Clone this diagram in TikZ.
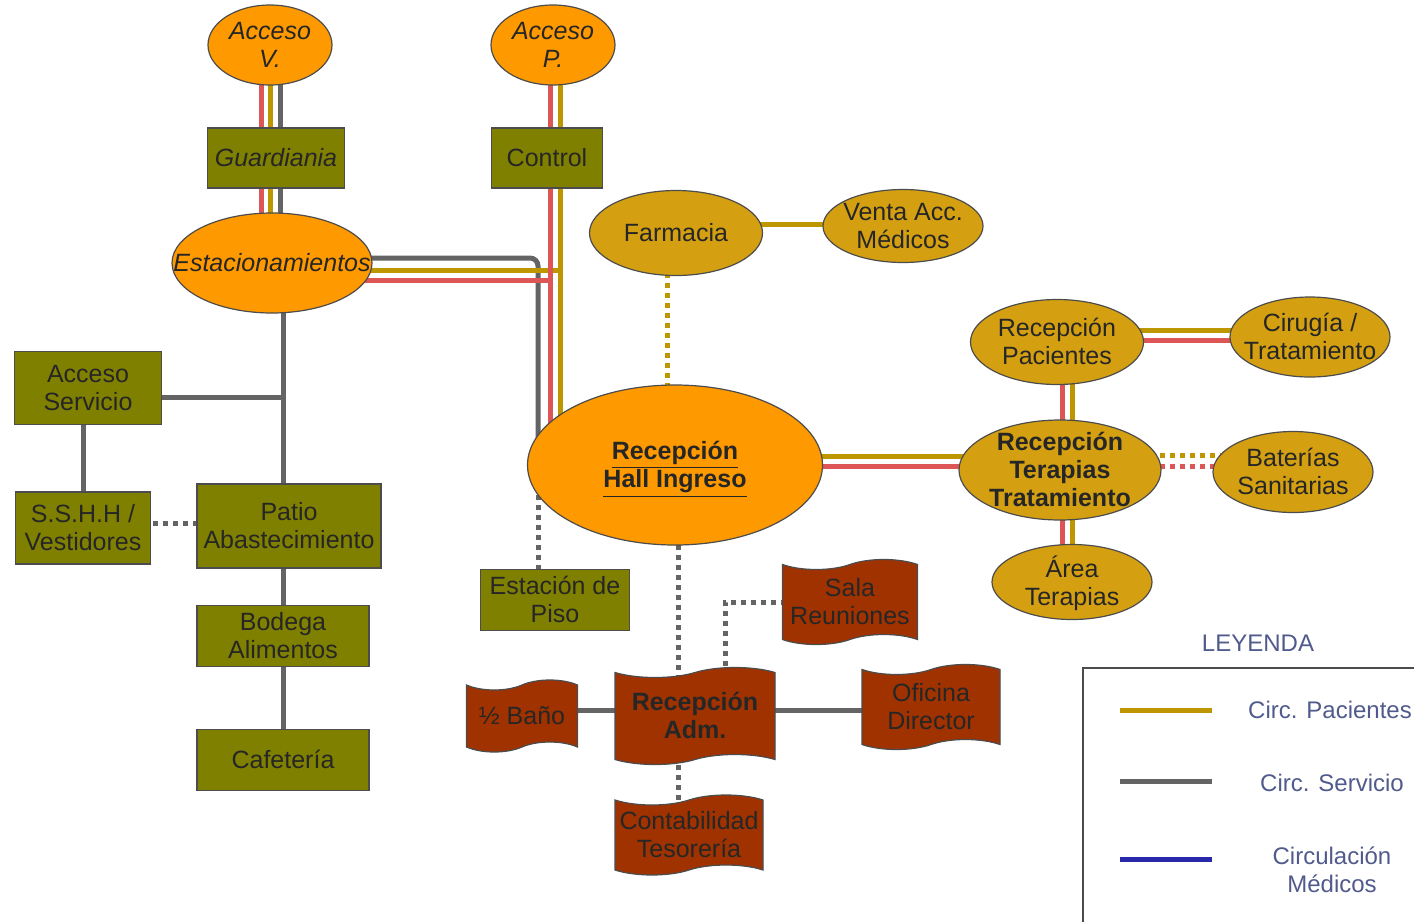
\documentclass[tikz,border=0pt]{standalone}
\usepackage{fontspec}
\setmainfont{Liberation Sans}
\usetikzlibrary{shapes.geometric,shapes.symbols,calc,backgrounds}
\definecolor{naranja}{RGB}{255,153,0}
\definecolor{dorado}{RGB}{212,160,18}
\definecolor{oliva}{RGB}{128,128,0}
\definecolor{ladrillo}{RGB}{160,50,0}
\definecolor{lpac}{RGB}{190,150,0}
\definecolor{lserv}{RGB}{100,100,100}
\definecolor{lmed}{RGB}{40,40,170}
\definecolor{lrojo}{RGB}{222,85,85}
\definecolor{leyenda}{RGB}{80,90,140}
% text of zero size, so the shape keeps its own size
\newcommand{\tx}[1]{\makebox[0pt]{\smash{\raisebox{-0.37em}{\begin{tabular}{@{}c@{}}#1\end{tabular}}}}}
\tikzset{
  base/.style={draw=black!70, line width=0.6pt, inner sep=0pt, text=black!85,
    font=\fontsize{12.5}{14}\selectfont},
  elip/.style={base, ellipse, fill=naranja},
  elipd/.style={base, ellipse, fill=dorado},
  caja/.style={base, rectangle, fill=oliva},
  bandera/.style={base, tape, fill=ladrillo, tape bend height=5pt},
  pac/.style={lpac, line width=2.5pt},
  serv/.style={lserv, line width=2.5pt},
  roja/.style={lrojo, line width=2.5pt},
  med/.style={lmed, line width=2.5pt},
  punteado/.style={dash pattern=on 2.5pt off 2.5pt},
  ley/.style={text=leyenda, font=\fontsize{12}{14}\selectfont, align=center}
}
\begin{document}
\begin{tikzpicture}[x=0.5pt,y=-0.5pt]
\useasboundingbox (0,0) rectangle (1414,922);

% accesos
\node[elip, font=\fontsize{12.5}{14}\selectfont\itshape, minimum width=62pt, minimum height=40pt] (acv) at (270,45) {\tx{Acceso\\V.}};
\node[elip, font=\fontsize{12.5}{14}\selectfont\itshape, minimum width=62pt, minimum height=40pt] (acp) at (553,45) {\tx{Acceso\\P.}};
\node[caja, font=\fontsize{12.5}{14}\selectfont\itshape, minimum width=68.5pt, minimum height=30pt] (guard) at (276,158) {\tx{Guardiania}};
\node[caja, minimum width=55.5pt, minimum height=30pt] (control) at (547,158) {\tx{Control}};
\node[elip, font=\fontsize{12.5}{14}\selectfont\itshape, minimum width=100pt, minimum height=50pt] (est) at (272,263) {\tx{Estacionamientos}};

% servicio
\node[caja, minimum width=73.5pt, minimum height=36.5pt] (accserv) at (88,388) {\tx{Acceso\\Servicio}};
\node[caja, minimum width=67.5pt, minimum height=36pt] (sshh) at (83,528) {\tx{S.S.H.H /\\Vestidores}};
\node[caja, minimum width=92pt, minimum height=42pt] (patio) at (289,526) {\tx{Patio\\Abastecimiento}};
\node[caja, minimum width=86pt, minimum height=30.5pt] (bodega) at (283,636) {\tx{Bodega\\Alimentos}};
\node[caja, minimum width=86pt, minimum height=30.5pt] (cafe) at (283,760) {\tx{Cafetería}};

% hall y pacientes
\node[elip, font=\fontsize{12.5}{14}\selectfont\bfseries, minimum width=147.5pt, minimum height=80pt] (hall) at (675,465) {\tx{\underline{Recepción}\\\underline{Hall Ingreso}}};
\node[elipd, minimum width=86.5pt, minimum height=42.5pt] (farm) at (676,233) {\tx{Farmacia}};
\node[elipd, minimum width=80pt, minimum height=36.5pt] (venta) at (903,226) {\tx{Venta Acc.\\Médicos}};
\node[caja, minimum width=74.5pt, minimum height=30.5pt] (piso) at (555,600) {\tx{Estación de\\Piso}};
\node[elipd, minimum width=86.5pt, minimum height=42.5pt] (recpac) at (1057,342) {\tx{Recepción\\Pacientes}};
\node[elipd, minimum width=80pt, minimum height=40pt] (ciru) at (1310,337) {\tx{Cirugía /\\Tratamiento}};
\node[elipd, font=\fontsize{12.5}{14}\selectfont\bfseries, minimum width=101pt, minimum height=50pt] (terap) at (1060,470) {\tx{Recepción\\Terapias\\Tratamiento}};
\node[elipd, minimum width=80pt, minimum height=40.5pt] (bater) at (1293,472) {\tx{Baterías\\Sanitarias}};
\node[elipd, minimum width=80pt, minimum height=37.5pt] (area) at (1072,582) {\tx{Área\\Terapias}};

% administracion
\node[bandera, minimum width=67.5pt, minimum height=42.5pt] (sala) at (850,602) {\tx{Sala\\Reuniones}};
\node[bandera, font=\fontsize{12.5}{14}\selectfont\bfseries, minimum width=80pt, minimum height=48.5pt] (adm) at (695,716) {\tx{Recepción\\Adm.}};
\node[bandera, minimum width=55.5pt, minimum height=36pt] (bano) at (522,716) {\tx{½ Baño}};
\node[bandera, minimum width=69pt, minimum height=42.5pt] (ofi) at (931,707) {\tx{Oficina\\Director}};
\node[bandera, minimum width=74pt, minimum height=40pt] (conta) at (689,835) {\tx{Contabilidad\\Tesorería}};

% tracks
\coordinate (vR) at ($(acv.center)+(-9,0)$);
\coordinate (vS) at ($(acv.center)+(10,0)$);
\coordinate (rP) at ($(acp.center)+(-3,0)$);
\coordinate (gP) at ($(acp.center)+(7,0)$);
\coordinate (sE) at ($(hall.center)+(-137,0)$);
\coordinate (eR) at ($(est.center)+(0,17)$);
\coordinate (eG) at ($(est.center)+(0,7)$);
\coordinate (eS) at ($(est.center)+(11,0)$);
\coordinate (hG) at ($(hall.center)+(0,-9)$);
\coordinate (hR) at ($(hall.center)+(0,1)$);
\coordinate (tR) at ($(terap.center)+(2,0)$);
\coordinate (tG) at ($(terap.center)+(12,0)$);
\coordinate (cG) at ($(recpac.center)+(0,-12)$);
\coordinate (cR) at ($(recpac.center)+(0,-2)$);
\coordinate (bG) at ($(terap.center)+(0,-15)$);
\coordinate (bR) at ($(terap.center)+(0,-4)$);
\coordinate (fV) at ($(farm.center)+(0,-9)$);
\coordinate (fH) at ($(farm.center)+(-9,0)$);
\coordinate (aS) at ($(accserv.center)+(0,9)$);
\coordinate (sP) at ($(sshh.center)+(0,-5)$);
\coordinate (aD) at ($(adm.center)+(-17,0)$);
\coordinate (aR) at ($(adm.center)+(30,0)$);
\coordinate (aH) at ($(adm.center)+(0,-6)$);

\begin{scope}[on background layer]
% acceso vehicular
\draw[roja] (vR) -- (vR |- est.center);
\draw[pac] (acv.center) -- (acv.center |- est.center);
\draw[serv] (vS) -- (vS |- est.center);
% estacionamientos al hall
\draw[serv, rounded corners=4pt] ($(est.center)+(0,-5)$) -| (sE);
\draw[roja] (eR) -- (eR -| rP);
\draw[pac] (eG) -- (eG -| gP);
% acceso peatonal
\draw[roja] (rP) -- (rP |- hall.center);
\draw[pac] (gP) -- (gP |- hall.center);
\draw[serv, punteado] (sE) -- (sE |- piso.center);
% servicio
\draw[serv] (eS) -- (eS |- cafe.center);
\draw[serv] (aS) -- (aS -| eS);
\draw[serv] (sshh.center) -- (sshh.center |- accserv.center);
\draw[serv, punteado] (sP) -- (sP -| patio.center);
% pacientes
\draw[pac] (fV) -- (fV -| venta.center);
\draw[pac, punteado] (fH) -- (fH |- hall.center);
\draw[pac] (hG) -- (hG -| terap.center);
\draw[roja] (hR) -- (hR -| terap.center);
\draw[roja] (tR |- recpac.center) -- (tR |- area.center);
\draw[pac] (tG |- recpac.center) -- (tG |- area.center);
\draw[pac] (cG) -- (cG -| ciru.center);
\draw[roja] (cR) -- (cR -| ciru.center);
\draw[pac, punteado] (bG) -- (bG -| bater.center);
\draw[roja, punteado] (bR) -- (bR -| bater.center);
% administracion
\draw[serv, punteado] (aD |- hall.center) -- (aD |- conta.center);
\draw[serv, punteado] (aR) |- (sala.center);
\draw[serv] (aH -| bano.center) -- (aH -| ofi.center);
\end{scope}

% leyenda
\node[ley] (leyt) at (1258,643) {LEYENDA};
\draw[black!70, line width=1pt] (1083,922) -- (1083,668) -- (1414,668);
\coordinate (l1a) at (1120,710); \coordinate (l1b) at (1212,710);
\coordinate (l2a) at (1120,781); \coordinate (l2b) at (1212,781);
\coordinate (l3a) at (1120,859); \coordinate (l3b) at (1212,859);
\draw[pac] (l1a) -- (l1b);
\draw[serv] (l2a) -- (l2b);
\draw[med] (l3a) -- (l3b);
\node[ley] (ley1) at (1330,710) {Circ. Pacientes};
\node[ley] (ley2) at (1332,783) {Circ. Servicio};
\node[ley] (ley3) at (1332,870) {Circulación\\Médicos};
\end{tikzpicture}
\end{document}
